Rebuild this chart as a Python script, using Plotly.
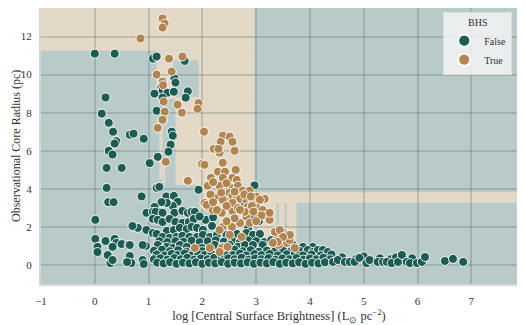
import plotly.graph_objects as go

# ---------------- data ----------------
false_pts = [
    (0.0, 11.1), (0.37, 11.1), (1.08, 10.84), (1.15, 10.95), (1.67, 10.72),
    (1.48, 9.8), (1.5, 9.58), (1.24, 9.37), (1.26, 9.16), (1.35, 9.05), (1.47, 9.1),
    (1.11, 9.0), (1.73, 9.12), (1.69, 8.79), (1.26, 8.79),
    (0.2, 8.8), (0.13, 7.95), (1.15, 8.1), (0.26, 7.47), (1.26, 7.58), (0.34, 7.0),
    (0.65, 6.84), (0.72, 6.9), (0.91, 6.63), (1.43, 7.0), (1.45, 6.79), (0.4, 6.5),
    (0.37, 6.38), (1.41, 6.32), (0.26, 6.0), (0.33, 5.8), (1.37, 5.95), (1.17, 5.68),
    (0.22, 5.1), (0.5, 5.1), (1.02, 5.35), (0.22, 4.05), (1.15, 4.05), (1.2, 4.1),
    (0.25, 3.3), (0.35, 3.3), (0.87, 3.6), (1.93, 3.95), (2.97, 4.18), (1.33, 3.6),
    (1.47, 3.63), (1.54, 3.32), (1.45, 3.1), (1.34, 3.26), (1.24, 3.3), (1.11, 3.05),
    (0.96, 2.74), (1.09, 2.47), (1.24, 2.79), (0.01, 2.37), (0.72, 2.0), (0.8, 1.95),
    (0.01, 1.37), (0.05, 0.95), (0.05, 0.68), (0.2, 1.26), (0.37, 1.37), (0.4, 1.16),
    (0.5, 1.1), (0.63, 1.05), (0.33, 0.95), (0.24, 0.52), (0.29, 0.1), (0.33, 0.26),
    (0.65, 0.47), (0.68, 0.1), (0.6, 0.15), (0.89, 0.26), (0.91, 0.05), (0.95, 1.0),
    (2.72, 3.26), (2.88, 3.05), (2.2, 3.0), (2.95, 2.55), (3.05, 2.3), (2.85, 1.95),
    (1.08, 2.79), (1.13, 2.79), (1.26, 2.74), (1.48, 2.74), (1.63, 2.84), (1.73, 2.74),
    (1.8, 2.79), (1.86, 2.79),
    (1.08, 2.42), (1.17, 2.37), (1.26, 2.26), (1.39, 2.42), (1.5, 2.26), (1.63, 2.21),
    (1.75, 2.26), (1.84, 2.42), (2.06, 2.37), (1.95, 2.55), (2.2, 2.5),
    (0.7, 2.05), (0.96, 1.84), (1.08, 1.68), (1.15, 1.63), (1.34, 1.79), (1.47, 1.84),
    (1.58, 1.95), (1.71, 1.89), (1.8, 2.0), (1.9, 1.95), (2.01, 1.84), (2.18, 2.05),
    (1.26, 1.47), (1.39, 1.42), (1.52, 1.47), (1.63, 1.53), (1.76, 1.47), (1.9, 1.47),
    (2.01, 1.58), (2.14, 1.47), (2.27, 1.58), (2.45, 1.58), (2.64, 1.63), (2.82, 1.68),
    (2.94, 1.58), (3.07, 1.63),
    (1.2, 1.25), (1.35, 1.2), (1.5, 1.25), (1.65, 1.22), (1.8, 1.28), (1.95, 1.2),
    (2.1, 1.25), (2.25, 1.3), (2.4, 1.22), (2.55, 1.28), (2.7, 1.2), (2.85, 1.3),
    (3.0, 1.25), (3.15, 1.2), (3.28, 1.3),
    (0.65, 1.05), (0.89, 1.05), (1.17, 1.05), (1.34, 0.95), (1.45, 0.89), (1.58, 1.05),
    (1.71, 0.95), (1.99, 0.89), (2.23, 1.05), (2.38, 0.95), (2.51, 1.05), (2.66, 0.95),
    (2.79, 1.05), (2.94, 1.05), (3.12, 1.05), (3.5, 1.05), (3.68, 1.05), (3.87, 0.95),
    (4.05, 0.95),
    (1.1, 0.75), (1.25, 0.8), (1.4, 0.72), (1.55, 0.78), (1.7, 0.7), (1.85, 0.75),
    (2.0, 0.72), (2.15, 0.78), (2.45, 0.75), (2.6, 0.8), (2.75, 0.72), (2.9, 0.78),
    (3.05, 0.7), (3.2, 0.75), (3.35, 0.72), (3.5, 0.78), (3.65, 0.72), (3.8, 0.75),
    (3.96, 0.79), (4.05, 0.68), (4.15, 0.79), (4.24, 0.79), (4.33, 0.68),
    (1.15, 0.55), (1.3, 0.5), (1.43, 0.58), (1.54, 0.52), (1.67, 0.6), (1.8, 0.5),
    (1.92, 0.57), (2.04, 0.52), (2.17, 0.6), (2.29, 0.5), (2.42, 0.58), (2.57, 0.52),
    (2.7, 0.6), (2.82, 0.5), (2.97, 0.57), (3.1, 0.52), (3.25, 0.58), (3.4, 0.5),
    (3.57, 0.56), (3.72, 0.62), (3.87, 0.5), (4.03, 0.55), (4.2, 0.5), (4.4, 0.55),
    (1.1, 0.3), (1.22, 0.35), (1.35, 0.28), (1.48, 0.36), (1.6, 0.3), (1.72, 0.38),
    (1.85, 0.28), (1.97, 0.34), (2.1, 0.3), (2.22, 0.37), (2.35, 0.28), (2.48, 0.35),
    (2.6, 0.3), (2.73, 0.38), (2.86, 0.28), (2.98, 0.34), (3.1, 0.3), (3.23, 0.36),
    (3.36, 0.28), (3.49, 0.34), (3.62, 0.3), (3.75, 0.36), (3.88, 0.28), (4.0, 0.34),
    (4.12, 0.3), (4.25, 0.38), (4.38, 0.3), (4.6, 0.4), (4.85, 0.3), (5.0, 0.45),
    (5.3, 0.35), (5.5, 0.3), (5.6, 0.4), (5.75, 0.3), (5.9, 0.35),
    (1.16, 0.12), (1.28, 0.08), (1.4, 0.15), (1.52, 0.06), (1.64, 0.12), (1.76, 0.08),
    (1.88, 0.14), (2.0, 0.06), (2.12, 0.12), (2.24, 0.08), (2.36, 0.15), (2.48, 0.06),
    (2.6, 0.12), (2.72, 0.08), (2.84, 0.14), (2.96, 0.06), (3.08, 0.12), (3.2, 0.08),
    (3.32, 0.15), (3.44, 0.06), (3.56, 0.12), (3.68, 0.08), (3.8, 0.14), (3.92, 0.06),
    (4.04, 0.12), (4.16, 0.08), (4.28, 0.14),
    (4.43, 0.16), (4.52, 0.26), (4.65, 0.16), (4.74, 0.16), (4.83, 0.16), (4.92, 0.37),
    (5.05, 0.1), (5.11, 0.26), (5.26, 0.16), (5.36, 0.16), (5.43, 0.16), (5.52, 0.1),
    (5.64, 0.16), (5.71, 0.53), (5.8, 0.16), (5.86, 0.1), (5.99, 0.1), (6.08, 0.16),
    (6.14, 0.42), (6.51, 0.21), (6.66, 0.32), (6.85, 0.16),
]

true_pts = [
    (1.26, 12.95), (1.3, 12.68), (1.26, 12.47), (0.85, 11.9), (1.38, 10.84), (1.63, 10.95),
    (1.15, 10.0), (1.43, 10.16), (1.26, 9.63), (1.27, 9.45), (1.28, 8.58), (1.54, 8.42),
    (1.62, 8.0), (1.93, 8.5), (1.91, 8.2), (1.3, 8.05), (1.26, 7.63), (1.17, 7.2),
    (2.03, 7.0), (2.38, 6.79), (2.51, 6.74), (2.34, 6.47), (2.56, 6.47), (2.6, 6.0),
    (2.21, 6.1), (2.32, 5.9), (2.3, 6.1), (1.99, 5.3), (2.04, 5.26), (2.38, 5.37),
    (1.32, 5.42), (1.73, 4.42), (2.29, 4.9), (2.42, 4.9), (2.62, 5.0), (2.16, 4.58),
    (2.38, 4.58), (2.56, 4.58), (2.1, 4.16), (2.32, 4.16), (2.51, 4.1), (2.64, 4.47),
    (2.66, 4.16), (2.27, 3.53), (2.42, 3.53), (2.5, 3.79), (2.56, 3.63), (2.64, 3.58),
    (2.75, 3.9), (2.88, 3.9), (2.7, 3.47), (2.82, 3.37), (2.92, 3.47), (2.97, 3.47),
    (3.01, 3.58), (3.16, 3.47), (3.07, 3.42), (2.04, 3.26), (2.1, 3.05), (2.58, 3.2),
    (2.56, 2.84), (2.84, 3.05), (3.01, 3.0), (2.82, 2.53), (3.12, 2.89), (3.21, 2.63),
    (2.88, 2.21), (2.7, 2.21), (2.55, 2.0), (2.38, 2.0), (2.19, 2.89), (2.36, 2.74),
    (2.51, 1.58), (2.73, 1.47), (2.36, 0.89), (2.47, 0.95), (3.4, 1.68), (3.53, 1.68),
    (3.59, 1.58), (3.48, 1.47), (3.38, 1.32), (3.57, 1.16), (3.42, 1.05), (3.62, 1.32),
    (3.25, 2.37), (3.35, 1.74), (3.44, 1.84), (3.63, 1.58), (3.5, 1.47), (3.4, 1.21),
    (3.31, 1.16), (3.72, 0.89), (2.08, 3.16), (2.27, 2.89), (2.38, 3.42), (2.56, 3.26),
    (2.66, 3.0), (2.79, 2.79), (2.92, 3.1), (3.25, 2.74), (2.32, 1.84), (2.14, 0.89),
    (2.32, 0.68), (1.86, 0.89),
    (2.2, 4.35), (2.45, 4.3), (2.6, 3.85), (2.35, 3.8), (2.15, 3.7), (2.78, 3.7),
    (2.9, 3.6), (2.2, 3.3), (2.45, 3.1), (2.7, 2.9), (2.95, 2.8), (3.1, 2.6),
    (2.6, 2.45), (2.45, 2.3), (3.0, 2.3),
]

# decision regions (x0, x1, y0, y1), data coordinates
beige_regions = [
    (-1.0, 2.97, 11.25, 13.6),
    (1.15, 2.97, 8.7, 11.25),
    (1.5, 2.97, 4.2, 8.7),
    (1.95, 2.97, 3.26, 4.2),
    (1.95, 7.9, 3.26, 3.82),
    (1.95, 3.75, 2.9, 3.26),
    (2.3, 3.75, 1.05, 2.9),
    (1.2, 1.26, 4.5, 7.3),
    (1.27, 1.31, 4.3, 5.5),
]
teal_regions = [
    (1.45, 1.93, 8.84, 10.74),
    (3.38, 3.42, 2.0, 3.26),
    (3.53, 3.57, 2.0, 3.26),
]

x_ticks = [-1, 0, 1, 2, 3, 4, 5, 6, 7]
x_ticklabels = ["\u22121", "0", "1", "2", "3", "4", "5", "6", "7"]
y_ticks = [0, 2, 4, 6, 8, 10, 12]

TEAL_BG = "#b8cbc9"
BEIGE_BG = "#e4d8c7"
C_FALSE = "#1d5c53"
C_TRUE = "#b1854f"
FONT = "Liberation Serif"

fig = go.Figure()

for name, pts, col in [("False", false_pts, C_FALSE), ("True", true_pts, C_TRUE)]:
    fig.add_trace(go.Scatter(
        x=[p[0] for p in pts], y=[p[1] for p in pts], mode="markers", name=name,
        marker=dict(size=9, color=col, line=dict(width=1, color="rgba(255,255,255,0.9)")),
    ))

shapes = []
for (x0, x1, y0, y1) in beige_regions:
    shapes.append(dict(type="rect", xref="x", yref="y", x0=x0, x1=x1, y0=y0, y1=y1,
                       fillcolor=BEIGE_BG, line=dict(width=0), layer="below"))
for (x0, x1, y0, y1) in teal_regions:
    shapes.append(dict(type="rect", xref="x", yref="y", x0=x0, x1=x1, y0=y0, y1=y1,
                       fillcolor=TEAL_BG, line=dict(width=0), layer="below"))

# the page body adds an 8px offset, so the figure is 8px smaller and margins shifted
fig.update_layout(
    width=517, height=317,
    margin=dict(l=33, r=8, t=0, b=41),
    paper_bgcolor="white", plot_bgcolor=TEAL_BG,
    shapes=shapes,
    font=dict(family=FONT, size=11, color="#333"),
    legend=dict(
        title=dict(text="BHS", side="top center", font=dict(family=FONT, size=10)),
        x=0.99, y=0.985, xanchor="right", yanchor="top",
        bgcolor="rgba(242,245,245,0.85)", bordercolor="#dddddd", borderwidth=1,
        font=dict(family=FONT, size=10), itemsizing="constant",
        tracegroupgap=0, itemwidth=30,
    ),
    xaxis=dict(
        range=[-1, 7.85], tickvals=x_ticks, ticktext=x_ticklabels, automargin=False,
        showgrid=True, gridcolor="rgba(80,100,100,0.25)", gridwidth=1.5,
        zeroline=False, ticks="outside", ticklen=6, tickcolor="rgba(0,0,0,0)",
        showline=True, mirror=True, linecolor="#d6d6d6", linewidth=2,
        title=dict(text="log [Central Surface Brightness] (L<sub>\u2299</sub> pc<sup>\u22122</sup>)",
                   font=dict(family=FONT, size=12.5)),
        tickfont=dict(family=FONT, size=11),
    ),
    yaxis=dict(
        range=[-1.0, 13.5], tickvals=y_ticks, automargin=False,
        showgrid=True, gridcolor="rgba(80,100,100,0.25)", gridwidth=1.5,
        zeroline=False, ticks="outside", ticklen=5, tickcolor="rgba(0,0,0,0)",
        showline=True, mirror=True, linecolor="#d6d6d6", linewidth=2,
        tickfont=dict(family=FONT, size=11),
    ),
    annotations=[dict(
        text="Observational Core Radius (pc)", xref="paper", yref="paper",
        x=0, y=0.5, xanchor="center", yanchor="middle", xshift=-25, textangle=-90,
        showarrow=False, font=dict(family=FONT, size=12, color="#333"),
    )],
)

fig.write_html("out.html")
